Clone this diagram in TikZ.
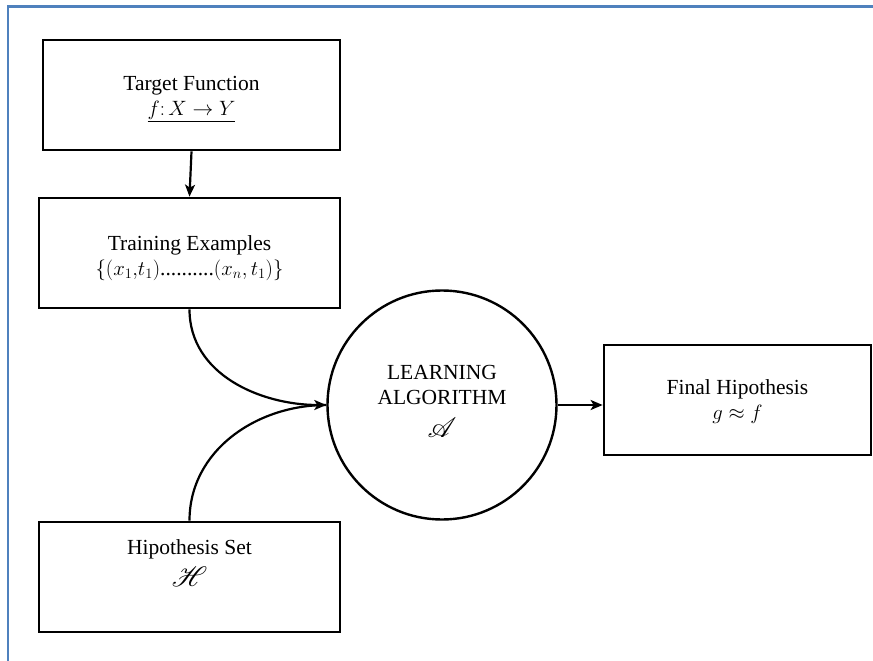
\documentclass[tikz,border=0pt]{standalone}
\usepackage{fontspec}
\setmainfont{Liberation Serif}
\usepackage{mathrsfs}
\usetikzlibrary{arrows.meta}

\definecolor{framecol}{HTML}{4F81BD}

\tikzset{
  basefont/.style={font=\fontsize{21.5}{25}\selectfont},
  stepbox/.style={draw, line width=2.7pt, minimum height=110pt, inner sep=0pt},
  algo/.style={draw, circle, line width=2.4pt, minimum size=229pt, inner sep=0pt},
  link/.style={line width=2.2pt, -{Stealth[length=12pt,width=10pt,inset=3pt]}},
  frameline/.style={draw=framecol, line width=2.4pt},
  txt/.style={align=center, inner sep=0pt, basefont}
}
\newcommand{\bigscr}[1]{\scalebox{1.35}{$\mathscr{#1}$}}

\begin{document}
\begin{tikzpicture}[x=1pt,y=-1pt]
  \useasboundingbox (0,0) rectangle (873,661);

  % page frame
  \draw[frameline] (8,661) -- (8,6.5) -- (873,6.5);

  % boxes and circle
  \node[stepbox, minimum width=297pt] (target) at (191.5,95) {};
  \node[stepbox, minimum width=301pt] (train) at (189.5,253) {};
  \node[algo] (alg) at (442,405) {};
  \node[stepbox, minimum width=267pt] (final) at (737.5,400) {};
  \node[stepbox, minimum width=301pt] (hyp) at (189.5,577) {};

  % labels
  \node[txt] (targettxt) at (191.5,99)
    {Target Function\\ $\underline{f\colon X \rightarrow Y}$};
  \node[txt] (traintxt) at (189.5,258)
    {Training Examples\\ $\{(x_1{,}t_1)$..........$(x_n, t_1)\}$};
  \node[txt, anchor=north] (algtxt) at (442,365)
    {LEARNING\\ ALGORITHM\\[8pt] \bigscr{A}};
  \node[txt] (finaltxt) at (737.5,402)
    {Final Hipothesis\\ $g \approx f$};
  \node[txt, anchor=north] (hyptxt) at (189.5,539)
    {Hipothesis Set\\[7pt] \bigscr{H}};

  % connectors
  \draw[link] (target.south) -- (train.north);
  \draw[link] (train.south) to[out=-90, in=180] (alg.west);
  \draw[line width=2.2pt] (hyp.north) to[out=90, in=180] (alg.west);
  \draw[link] (alg.east) -- (alg.east -| final.west);
\end{tikzpicture}
\end{document}
